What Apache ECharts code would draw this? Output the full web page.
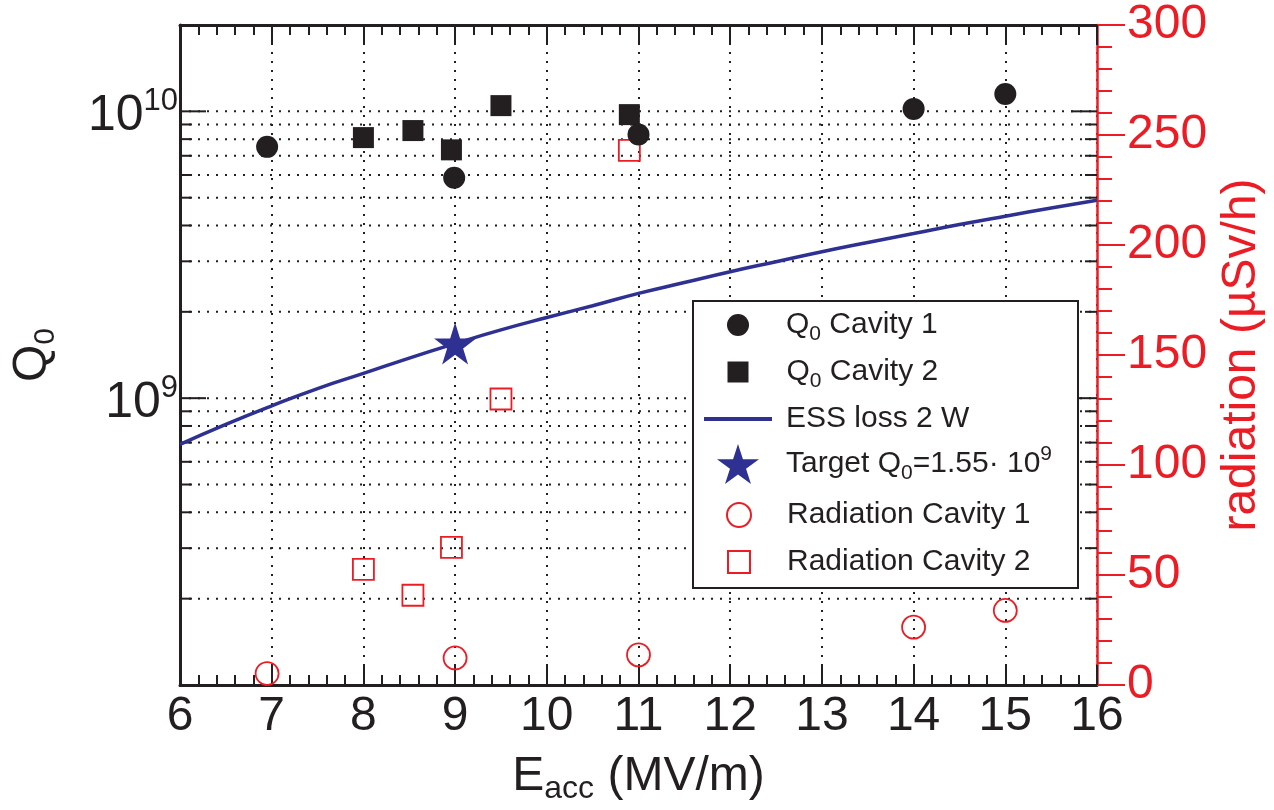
<!DOCTYPE html>
<html>
<head>
<meta charset="utf-8">
<script src="https://cdn.jsdelivr.net/npm/echarts@6/dist/echarts.min.js"></script>
<style>
html,body{margin:0;padding:0;background:#fff;}
#chart{width:1274px;height:810px;}
</style>
</head>
<body>
<div id="chart"></div>
<script>
// ---- data ----
const E_MIN = 6, E_MAX = 16;
const Q_MIN = 1e8, Q_MAX = 2e10;
const RAD_MIN = 0, RAD_MAX = 300;

const cav1E = [6.95, 8.99, 11.0, 14.0, 15.0];
const cav1Q = [7.52e9, 5.87e9, 8.3e9, 1.02e10, 1.15e10];

const cav2E = [8.0, 8.54, 8.96, 9.5, 10.9];
const cav2Q = [8.1e9, 8.57e9, 7.34e9, 1.047e10, 9.74e9];

const essE = [6, 6.5, 7, 7.5, 8, 8.5, 9, 9.5, 10, 10.5, 11, 11.5, 12, 12.5, 13, 13.5, 14, 14.5, 15, 15.5, 16];
const essQ = [6.9e8, 8.1e8, 9.4e8, 1.08e9, 1.22e9, 1.38e9, 1.55e9, 1.73e9, 1.91e9, 2.1e9, 2.32e9, 2.53e9, 2.76e9, 2.99e9, 3.24e9, 3.49e9, 3.75e9, 4.03e9, 4.31e9, 4.6e9, 4.9e9];

const targetE = [9];
const targetQ = [1.55e9];

const rad1E = [6.95, 9.0, 11.0, 14.0, 15.0];
const rad1V = [5.2, 12.3, 13.7, 26.3, 33.9];

const rad2E = [8.0, 8.54, 8.96, 9.5, 10.9];
const rad2V = [52.6, 40.8, 62.6, 130, 243];

// log-axis tick values (decades and their multiples)
const qTickValues = [2e8, 3e8, 4e8, 5e8, 6e8, 7e8, 8e8, 9e8,
                     1e9, 2e9, 3e9, 4e9, 5e9, 6e9, 7e9, 8e9, 9e9, 1e10];
const qLabelValues = [1e9, 1e10];

// ---- styles ----
const BLACK = '#231f20', RED = '#ed1c24', BLUE = '#2e3192';
const FONT = '"Liberation Sans", Arial, Helvetica, sans-serif';
const STAR = 'path://M50,0 L61.2,34.5 L97.6,34.5 L68.2,55.9 L79.4,90.5 L50,69.1 L20.6,90.5 L31.8,55.9 L2.4,34.5 L38.8,34.5 Z';

const zip = (a, b) => a.map((v, i) => [v, b[i]]);
const isDecade = v => Math.abs(Math.log10(v) - Math.round(Math.log10(v))) < 1e-9;

const legendRich = {
  t: {fontSize: 30, lineHeight: 40, color: BLACK, fontFamily: FONT},
  s: {fontSize: 21, lineHeight: 20, color: BLACK, fontFamily: FONT, verticalAlign: 'bottom'},
  u: {fontSize: 21, lineHeight: 20, color: BLACK, fontFamily: FONT, verticalAlign: 'top'}
};
const ICON_CX = 738, TEXT_X = 786;
// legend rows: icon centre y and icon sizes
const legendRows = [
  {name: 'Q0 Cavity 1', cy: 325, w: 22, h: 22, text: '{t|Q}{s|0}{t| Cavity 1}'},
  {name: 'Q0 Cavity 2', cy: 372, w: 21, h: 21, text: '{t|Q}{s|0}{t| Cavity 2}'},
  {name: 'ESS loss 2 W', cy: 419, w: 68, h: 4, icon: 'rect', text: '{t|ESS loss 2 W}'},
  {name: 'Target', cy: 465, w: 42, h: 42, text: '{t|Target Q}{s|0}{t|=1.55· 10}{u|9}'},
  {name: 'Radiation Cavity 1', cy: 515, w: 24, h: 24, text: '{t|Radiation Cavity 1}'},
  {name: 'Radiation Cavity 2', cy: 562, w: 22, h: 22, text: '{t|Radiation Cavity 2}'}
];

const legends = legendRows.map(r => {
  const left = ICON_CX - r.w / 2;
  const pad = Math.round(TEXT_X - (left + r.w + 5));
  const rich = Object.assign({}, legendRich, {pad: {width: pad, fontSize: 30, lineHeight: 40}});
  return {
    data: [r.icon ? {name: r.name, icon: r.icon} : r.name],
    left: left,
    top: r.cy - Math.max(r.h, 30) / 2,
    padding: 0,
    itemWidth: r.w,
    itemHeight: r.h,
    selectedMode: false,
    z: 6,
    formatter: () => '{pad| }' + r.text,
    textStyle: {fontSize: 30, color: BLACK, fontFamily: FONT, rich: rich}
  };
});

const chart = echarts.init(document.getElementById('chart'), null, {renderer: 'canvas'});

const option = {
  animation: false,
  backgroundColor: '#fff',
  grid: {left: 180, right: 174, top: 25, bottom: 122, containLabel: false},
  legend: legends,
  graphic: [{
    type: 'rect', z: 3, left: 692, top: 300,
    shape: {width: 385, height: 287},
    style: {fill: '#fff', stroke: BLACK, lineWidth: 2}
  }],
  xAxis: [{
    type: 'value', min: E_MIN, max: E_MAX, interval: 1, position: 'bottom',
    axisLine: {show: true, onZero: false, lineStyle: {color: BLACK, width: 3}},
    axisTick: {show: true, inside: true, length: 20, lineStyle: {color: BLACK, width: 2}},
    minorTick: {show: true, splitNumber: 5, length: 10, lineStyle: {color: BLACK, width: 2}},
    axisLabel: {fontSize: 48, color: BLACK, fontFamily: FONT, margin: 8},
    splitLine: {show: true, lineStyle: {color: BLACK, width: 2, type: [2, 7]}},
    name: '{e|E}{s|acc}{e| (MV/m)}',
    nameLocation: 'middle', nameGap: 64,
    nameTextStyle: {
      rich: {
        e: {fontSize: 48, lineHeight: 56, color: BLACK, fontFamily: FONT},
        s: {fontSize: 32, lineHeight: 26, color: BLACK, fontFamily: FONT, verticalAlign: 'bottom'}
      }
    }
  }, {
    type: 'value', min: E_MIN, max: E_MAX, interval: 1, position: 'top',
    axisLine: {show: true, onZero: false, lineStyle: {color: BLACK, width: 3}},
    axisTick: {show: true, inside: true, length: 20, lineStyle: {color: BLACK, width: 2}},
    minorTick: {show: true, splitNumber: 5, length: 10, lineStyle: {color: BLACK, width: 2}},
    axisLabel: {show: false},
    splitLine: {show: false}
  }],
  yAxis: [{
    type: 'log', logBase: 10, min: Q_MIN, max: Q_MAX, position: 'left',
    axisLine: {show: true, onZero: false, lineStyle: {color: BLACK, width: 3}},
    axisTick: {show: false},
    splitLine: {show: false},
    axisLabel: {
      margin: 2, padding: [10, 0, 0, 0],
      formatter: v => {
        const hit = qLabelValues.find(q => Math.abs(Math.log10(q) - Math.log10(v)) < 1e-6);
        return hit ? '{m|10}{u|' + Math.round(Math.log10(hit)) + '}' : '';
      },
      rich: {
        m: {fontSize: 50, lineHeight: 60, color: BLACK, fontFamily: FONT},
        u: {fontSize: 31, lineHeight: 30, color: BLACK, fontFamily: FONT, verticalAlign: 'top'}
      }
    },
    name: '{q|Q}{s|0}',
    nameLocation: 'middle', nameRotate: 90, nameGap: 119,
    nameTextStyle: {
      rich: {
        q: {fontSize: 48, lineHeight: 56, color: BLACK, fontFamily: FONT},
        s: {fontSize: 30, lineHeight: 28, color: BLACK, fontFamily: FONT, verticalAlign: 'bottom'}
      }
    }
  }, {
    type: 'value', min: RAD_MIN, max: RAD_MAX, interval: 50, position: 'right',
    axisLine: {show: true, onZero: false, lineStyle: {color: RED, width: 2.5}},
    axisTick: {show: true, inside: false, length: 28, lineStyle: {color: RED, width: 2}},
    minorTick: {show: true, splitNumber: 5, length: 15, lineStyle: {color: RED, width: 2}},
    splitLine: {show: false},
    axisLabel: {fontSize: 48, color: RED, fontFamily: FONT, margin: 30},
    name: 'radiation (µSv/h)',
    nameLocation: 'middle', nameRotate: 90, nameGap: 116,
    nameTextStyle: {fontSize: 48, lineHeight: 48, color: RED, fontFamily: FONT}
  }],
  series: [
    {
      // grid lines and ticks of the logarithmic Q0 axis
      type: 'custom', name: 'qgrid', silent: true, z: 1, clip: false,
      xAxisIndex: 0, yAxisIndex: 0,
      data: qTickValues.map(v => [E_MIN, v]),
      encode: {x: 0, y: 1},
      renderItem: (params, api) => {
        const v = api.value(1);
        const p0 = api.coord([E_MIN, v]);
        const p1 = api.coord([E_MAX, v]);
        const len = isDecade(v) ? 26 : 12;
        return {
          type: 'group',
          children: [
            {type: 'line', shape: {x1: p0[0], y1: p0[1], x2: p1[0], y2: p1[1]},
             style: {stroke: BLACK, lineWidth: 2, lineDash: [2, 7]}},
            {type: 'line', shape: {x1: p0[0], y1: p0[1], x2: p0[0] + len, y2: p0[1]},
             style: {stroke: BLACK, lineWidth: 2}},
            {type: 'line', shape: {x1: p1[0] - len, y1: p1[1], x2: p1[0], y2: p1[1]},
             style: {stroke: BLACK, lineWidth: 2}}
          ]
        };
      }
    },
    {
      name: 'Radiation Cavity 1', type: 'scatter', xAxisIndex: 0, yAxisIndex: 1, z: 2,
      data: zip(rad1E, rad1V), symbol: 'circle', symbolSize: 23,
      itemStyle: {color: 'rgba(0,0,0,0)', borderColor: RED, borderWidth: 1.8, opacity: 1}
    },
    {
      name: 'Radiation Cavity 2', type: 'scatter', xAxisIndex: 0, yAxisIndex: 1, z: 2,
      data: zip(rad2E, rad2V), symbol: 'rect', symbolSize: 21,
      itemStyle: {color: 'rgba(0,0,0,0)', borderColor: RED, borderWidth: 1.8, opacity: 1}
    },
    {
      name: 'Q0 Cavity 2', type: 'scatter', xAxisIndex: 0, yAxisIndex: 0, z: 2,
      data: zip(cav2E, cav2Q), symbol: 'rect', symbolSize: 21,
      itemStyle: {color: BLACK, opacity: 1}
    },
    {
      name: 'Q0 Cavity 1', type: 'scatter', xAxisIndex: 0, yAxisIndex: 0, z: 2,
      data: zip(cav1E, cav1Q), symbol: 'circle', symbolSize: 22,
      itemStyle: {color: BLACK, opacity: 1}
    },
    {
      name: 'ESS loss 2 W', type: 'line', xAxisIndex: 0, yAxisIndex: 0, z: 2,
      data: zip(essE, essQ), symbol: 'none', smooth: true,
      lineStyle: {color: BLUE, width: 3.5}, itemStyle: {color: BLUE}
    },
    {
      name: 'Target', type: 'scatter', xAxisIndex: 0, yAxisIndex: 0, z: 3,
      data: zip(targetE, targetQ), symbol: STAR, symbolSize: 42,
      itemStyle: {color: BLUE, opacity: 1}
    }
  ]
};
chart.setOption(option);
</script>
</body>
</html>
